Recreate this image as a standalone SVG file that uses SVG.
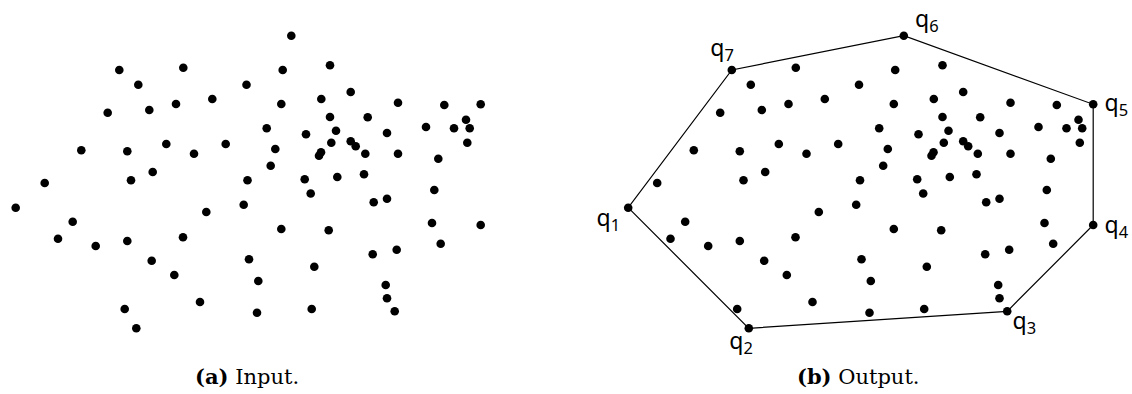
<svg xmlns="http://www.w3.org/2000/svg" xmlns:xlink="http://www.w3.org/1999/xlink" width="1132" height="394" viewBox="0 0 1132 394">
<style>
.pt{fill:#000}
.hull{stroke:#000;stroke-width:1.2;fill:none}
.lab{font-family:"Noto Sans","DejaVu Sans",sans-serif;font-size:23px;fill:#000}
.sub{font-size:16.5px}
.cap{font-family:"DejaVu Serif","Liberation Serif",serif;font-size:21px;fill:#000}
.b{font-weight:bold}
</style>
<defs>
<g id="pts">
<circle class="pt" r="4.3" cx="119.3" cy="70"/>
<circle class="pt" r="4.3" cx="183.3" cy="67.7"/>
<circle class="pt" r="4.3" cx="138.3" cy="84.7"/>
<circle class="pt" r="4.3" cx="246.5" cy="84.7"/>
<circle class="pt" r="4.3" cx="212.3" cy="99"/>
<circle class="pt" r="4.3" cx="176" cy="104"/>
<circle class="pt" r="4.3" cx="149.3" cy="110"/>
<circle class="pt" r="4.3" cx="107.7" cy="112.7"/>
<circle class="pt" r="4.3" cx="81.3" cy="150.3"/>
<circle class="pt" r="4.3" cx="127.3" cy="151.3"/>
<circle class="pt" r="4.3" cx="166.3" cy="144"/>
<circle class="pt" r="4.3" cx="194" cy="153.7"/>
<circle class="pt" r="4.3" cx="225.7" cy="144"/>
<circle class="pt" r="4.3" cx="152.7" cy="172"/>
<circle class="pt" r="4.3" cx="131" cy="180.3"/>
<circle class="pt" r="4.3" cx="44.7" cy="183"/>
<circle class="pt" r="4.3" cx="247.5" cy="180.3"/>
<circle class="pt" r="4.3" cx="291.3" cy="35.7"/>
<circle class="pt" r="4.3" cx="282.7" cy="70"/>
<circle class="pt" r="4.3" cx="330" cy="65.3"/>
<circle class="pt" r="4.3" cx="350.7" cy="92"/>
<circle class="pt" r="4.3" cx="321.3" cy="99"/>
<circle class="pt" r="4.3" cx="281.3" cy="104"/>
<circle class="pt" r="4.3" cx="398" cy="102.7"/>
<circle class="pt" r="4.3" cx="444.3" cy="105"/>
<circle class="pt" r="4.3" cx="480.7" cy="104.3"/>
<circle class="pt" r="4.3" cx="330" cy="117"/>
<circle class="pt" r="4.3" cx="367.7" cy="117.3"/>
<circle class="pt" r="4.3" cx="266.7" cy="128.3"/>
<circle class="pt" r="4.3" cx="306" cy="134.3"/>
<circle class="pt" r="4.3" cx="336" cy="130.7"/>
<circle class="pt" r="4.3" cx="387" cy="133"/>
<circle class="pt" r="4.3" cx="426" cy="127"/>
<circle class="pt" r="4.3" cx="454" cy="128.3"/>
<circle class="pt" r="4.3" cx="466" cy="119.7"/>
<circle class="pt" r="4.3" cx="469.7" cy="128.3"/>
<circle class="pt" r="4.3" cx="467.3" cy="142.7"/>
<circle class="pt" r="4.3" cx="275.3" cy="149"/>
<circle class="pt" r="4.3" cx="331.3" cy="142.7"/>
<circle class="pt" r="4.3" cx="350.7" cy="141.3"/>
<circle class="pt" r="4.3" cx="355.7" cy="146.3"/>
<circle class="pt" r="4.3" cx="365.3" cy="153.7"/>
<circle class="pt" r="4.3" cx="398" cy="153.7"/>
<circle class="pt" r="4.3" cx="321" cy="152.3"/>
<circle class="pt" r="4.3" cx="319" cy="155.7"/>
<circle class="pt" r="4.3" cx="270.7" cy="165.7"/>
<circle class="pt" r="4.3" cx="304.7" cy="179.3"/>
<circle class="pt" r="4.3" cx="337.3" cy="177"/>
<circle class="pt" r="4.3" cx="364" cy="174.3"/>
<circle class="pt" r="4.3" cx="438.3" cy="158.7"/>
<circle class="pt" r="4.3" cx="434.3" cy="190"/>
<circle class="pt" r="4.3" cx="310.7" cy="193.5"/>
<circle class="pt" r="4.3" cx="387" cy="198.7"/>
<circle class="pt" r="4.3" cx="373.7" cy="202.3"/>
<circle class="pt" r="4.3" cx="15.7" cy="207.7"/>
<circle class="pt" r="4.3" cx="72.7" cy="221.7"/>
<circle class="pt" r="4.3" cx="58" cy="238.7"/>
<circle class="pt" r="4.3" cx="95.7" cy="246"/>
<circle class="pt" r="4.3" cx="127.3" cy="241"/>
<circle class="pt" r="4.3" cx="151.7" cy="260.7"/>
<circle class="pt" r="4.3" cx="174.3" cy="275"/>
<circle class="pt" r="4.3" cx="183" cy="237.3"/>
<circle class="pt" r="4.3" cx="206.3" cy="212"/>
<circle class="pt" r="4.3" cx="243.7" cy="204.7"/>
<circle class="pt" r="4.3" cx="249" cy="259.3"/>
<circle class="pt" r="4.3" cx="200" cy="302"/>
<circle class="pt" r="4.3" cx="124.7" cy="309"/>
<circle class="pt" r="4.3" cx="136.3" cy="328.3"/>
<circle class="pt" r="4.3" cx="281.3" cy="229"/>
<circle class="pt" r="4.3" cx="328.7" cy="230.3"/>
<circle class="pt" r="4.3" cx="432" cy="223"/>
<circle class="pt" r="4.3" cx="480.7" cy="225"/>
<circle class="pt" r="4.3" cx="440.7" cy="243.7"/>
<circle class="pt" r="4.3" cx="372.7" cy="254.3"/>
<circle class="pt" r="4.3" cx="396.7" cy="249.7"/>
<circle class="pt" r="4.3" cx="314.3" cy="266.7"/>
<circle class="pt" r="4.3" cx="258.3" cy="281"/>
<circle class="pt" r="4.3" cx="385.7" cy="285"/>
<circle class="pt" r="4.3" cx="387" cy="298.3"/>
<circle class="pt" r="4.3" cx="394.7" cy="311.3"/>
<circle class="pt" r="4.3" cx="257" cy="312.7"/>
<circle class="pt" r="4.3" cx="311.7" cy="309"/>
</g>
</defs>
<g id="input-points">
<use xlink:href="#pts" href="#pts"/>
</g>
<g id="connectors">
<polygon class="hull" points="628.2,207.7 748.8,328.3 1007.2,311.3 1093.2,225 1093.2,104.3 903.8,35.7 731.8,70"/>
</g>
<g id="output-points">
<use xlink:href="#pts" href="#pts" transform="translate(612.5,0)"/>
</g>
<g id="q1"><text class="lab" x="596.6" y="226">q<tspan class="sub" dy="5">1</tspan></text></g>
<g id="q2"><text class="lab" x="729.3" y="349">q<tspan class="sub" dy="5">2</tspan></text></g>
<g id="q3"><text class="lab" x="1012.6" y="329">q<tspan class="sub" dy="5">3</tspan></text></g>
<g id="q4"><text class="lab" x="1104.6" y="232.5">q<tspan class="sub" dy="5">4</tspan></text></g>
<g id="q5"><text class="lab" x="1104.6" y="110.5">q<tspan class="sub" dy="5">5</tspan></text></g>
<g id="q6"><text class="lab" x="915" y="27">q<tspan class="sub" dy="5">6</tspan></text></g>
<g id="q7"><text class="lab" x="710.3" y="55.5">q<tspan class="sub" dy="5">7</tspan></text></g>
<g id="captions">
<text class="cap" x="195" y="384"><tspan class="b">(a)</tspan> Input.</text>
<text class="cap" x="797" y="384"><tspan class="b">(b)</tspan> Output.</text>
</g>
</svg>
